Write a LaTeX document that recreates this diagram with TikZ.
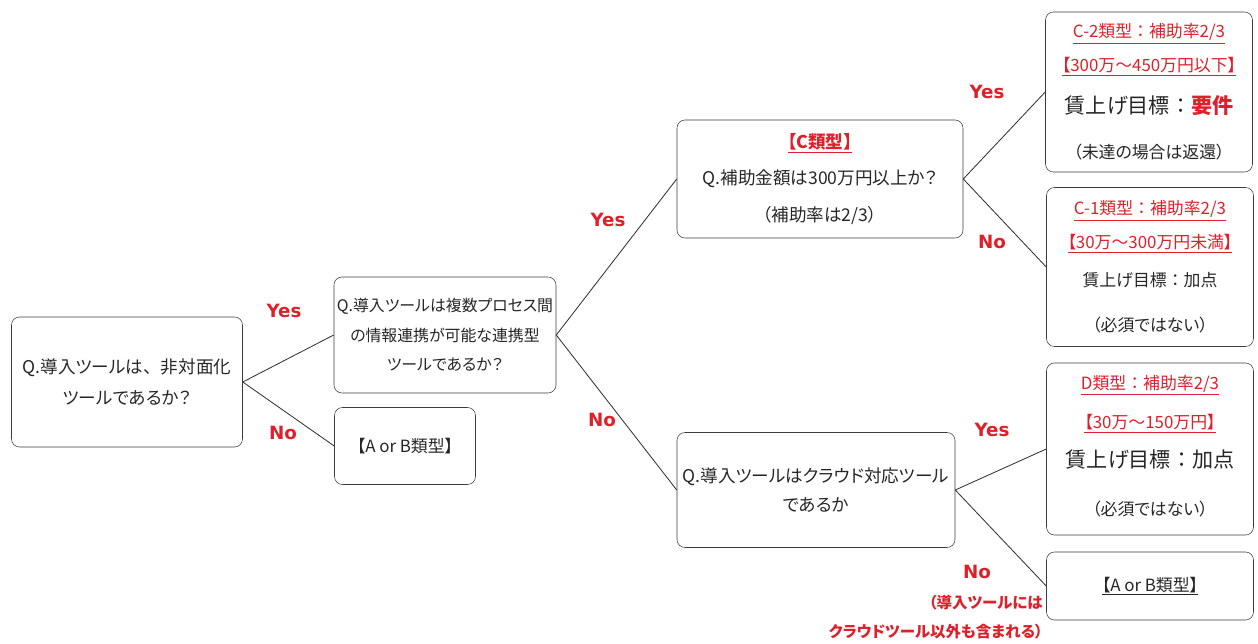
\documentclass[tikz,border=0pt]{standalone}
\usepackage{fontspec}
\setmainfont{Noto Sans CJK JP}[RawFeature=+palt]
\newfontfamily\jpfull{Noto Sans CJK JP}
\newfontfamily\ynfont{DejaVu Sans}
\definecolor{HojoRed}{RGB}{222,32,42}
\definecolor{HojoGray}{RGB}{60,60,60}
\def\HojoRed{HojoRed}
\def\HojoText{black!85}
\def\px{0.025cm}
\def\fcolon{{\jpfull ：}}

\begin{document}
\begin{tikzpicture}
    [x=0.025cm, y=-0.025cm,
    qbox/.style={draw=HojoGray,rounded corners=0.2cm,align=center,text=\HojoText,inner sep=0pt,
      font=\fontsize{12.5}{22.5}\selectfont},
    rbox/.style={qbox,minimum width=207*\px,font=\fontsize{12}{24}\selectfont},
    ans/.style={text=\HojoRed,font=\ynfont\bfseries\fontsize{13}{15}\selectfont},
    conn/.style={draw=black!80,line width=0.6pt},
    ]
    \useasboundingbox (0,0) rectangle (1258,644);
    % questions
    \node[qbox,minimum width=231*\px,minimum height=130*\px] (q1) at (127,382)
      {Q.導入ツールは{\jpfull 、}非対面化\\ツールであるか？};
    \node[qbox,minimum width=222*\px,minimum height=116*\px,font=\fontsize{11.3}{21}\selectfont] (q2) at (445,335)
      {Q.導入ツールは複数プロセス間\\の情報連携が可能な連携型\\ツールであるか？};
    \node[qbox,minimum width=141*\px,minimum height=77*\px,font=\fontsize{12}{22}\selectfont] (ab1) at (405,446)
      {【A or B類型】};
    \node[qbox,minimum width=286*\px,minimum height=118*\px,font=\fontsize{12.5}{26}\selectfont] (qc) at (820,179)
      {{\bfseries\color{\HojoRed}\underline{【C類型】}}\\Q.補助金額は300万円以上か？\\（補助率は2/3）};
    \node[qbox,minimum width=278*\px,minimum height=115*\px,font=\fontsize{12.5}{21}\selectfont] (qd) at (816,490)
      {Q.導入ツールはクラウド対応ツール\\であるか};
    % results
    \node[rbox,minimum height=160*\px] (c2) at (1149,92)
      {{\color{\HojoRed}\underline{C-2類型\fcolon 補助率2/3}}\\
       {\color{\HojoRed}\underline{【300万～450万円以下】}}\\[6pt]
       {\fontsize{15}{18}\selectfont 賃上げ目標\fcolon{\bfseries\color{\HojoRed}要件}}\\[8pt]
       （未達の場合は返還）};
    \node[rbox,minimum height=159*\px] (c1) at (1150,267)
      {{\color{\HojoRed}\underline{C-1類型\fcolon 補助率2/3}}\\
       {\color{\HojoRed}\underline{【30万～300万円未満】}}\\[3pt]
       賃上げ目標\fcolon 加点\\[8pt]
       （必須ではない）};
    \node[rbox,minimum height=172*\px] (d) at (1150,449)
      {\mbox{}\\[-18pt]
       {\color{\HojoRed}\underline{D類型\fcolon 補助率2/3}}\\[4pt]
       {\color{\HojoRed}\underline{【30万～150万円】}}\\[4pt]
       {\fontsize{15}{18}\selectfont 賃上げ目標\fcolon 加点}\\[10pt]
       （必須ではない）};
    \node[rbox,minimum height=68*\px] (ab2) at (1150,586)
      {\underline{【A or B類型】}};
    % branches
    \path[conn] (q1.east) edge (q2.west) edge (ab1.west)
    (q2.east) edge (qc.west) edge (qd.west)
    (qc.east) edge (c2.west) edge (c1.west)
    (qd.east) edge (d.west) edge (ab2.west);
    \node[ans] (y1) at (284,311) {Yes};
    \node[ans] (n1) at (283,433) {No};
    \node[ans] (y2) at (608,220) {Yes};
    \node[ans] (n2) at (602,420) {No};
    \node[ans] (y3) at (987,92) {Yes};
    \node[ans] (n3) at (992,242) {No};
    \node[ans] (y4) at (992,430) {Yes};
    \node[ans] (n4) at (977,572) {No};
    \node[text=\HojoRed,font=\bfseries\fontsize{11}{20.5}\selectfont,align=right,anchor=east,inner sep=0pt]
      (n4note) at (1043,617) {（導入ツールには\\クラウドツール以外も含まれる）};
\end{tikzpicture}
\end{document}
